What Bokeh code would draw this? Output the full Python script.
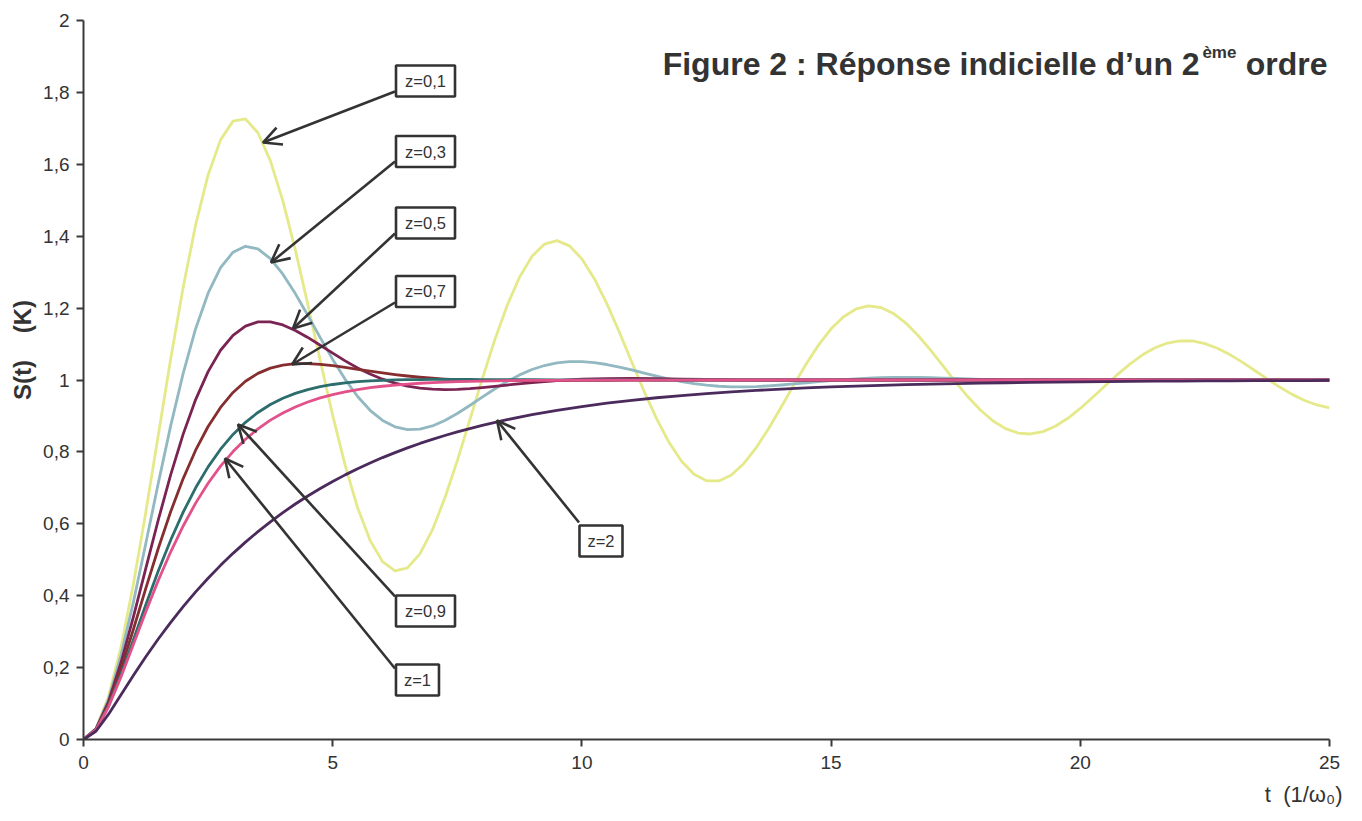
from bokeh.plotting import figure
from bokeh.models import Range1d, FixedTicker, Label, Arrow, OpenHead, ColumnDataSource, Title
from bokeh.core.properties import value
from bokeh.embed import file_html
from bokeh.resources import INLINE

# ---------------- data ----------------
t_fine = [0, 0.25, 0.5, 0.75, 1, 1.25, 1.5, 1.75, 2, 2.25, 2.5, 2.75, 3, 3.25, 3.5, 3.75,
          4, 4.25, 4.5, 4.75, 5, 5.25, 5.5, 5.75, 6, 6.25, 6.5, 6.75, 7, 7.25, 7.5, 7.75,
          8, 8.25, 8.5, 8.75, 9, 9.25, 9.5, 9.75, 10, 10.25, 10.5, 10.75, 11, 11.25, 11.5, 11.75,
          12, 12.25, 12.5, 12.75, 13, 13.25, 13.5, 13.75, 14, 14.25, 14.5, 14.75, 15, 15.25, 15.5, 15.75,
          16, 16.25, 16.5, 16.75, 17, 17.25, 17.5, 17.75, 18, 18.25, 18.5, 18.75, 19, 19.25, 19.5, 19.75,
          20, 20.25, 20.5, 20.75, 21, 21.25, 21.5, 21.75, 22, 22.25, 22.5, 22.75, 23, 23.25, 23.5, 23.75,
          24, 24.25, 24.5, 24.75, 25]

t_mixed = [0, 0.25, 0.5, 0.75, 1, 1.25, 1.5, 1.75, 2, 2.25, 2.5, 2.75, 3, 3.25, 3.5, 3.75,
           4, 4.25, 4.5, 4.75, 5, 5.25, 5.5, 5.75, 6, 6.25, 6.5, 6.75, 7, 7.25, 7.5, 7.75, 8,
           8.5, 9, 9.5, 10, 10.5, 11, 11.5, 12, 12.5, 13, 13.5, 14, 14.5, 15, 15.5, 16, 16.5,
           17, 17.5, 18, 18.5, 19, 19.5, 20, 20.5, 21, 21.5, 22, 22.5, 23, 23.5, 24, 24.5, 25]

s_z01 = [0, 0.0306, 0.1185, 0.2555, 0.4310, 0.6325, 0.8464, 1.0592, 1.2581, 1.4316,
         1.5704, 1.6679, 1.7201, 1.7261, 1.6878, 1.6097, 1.4983, 1.3622, 1.2108, 1.0539,
         0.9014, 0.7624, 0.6445, 0.5540, 0.4949, 0.4693, 0.4772, 0.5164, 0.5830, 0.6716,
         0.7758, 0.8886, 1.0026, 1.1109, 1.2072, 1.2862, 1.3440, 1.3781, 1.3877, 1.3732,
         1.3369, 1.2818, 1.2124, 1.1335, 1.0503, 0.9681, 0.8919, 0.8259, 0.7738, 0.7378,
         0.7196, 0.7192, 0.7359, 0.7678, 0.8122, 0.8658, 0.9250, 0.9858, 1.0445, 1.0977,
         1.1423, 1.1761, 1.1976, 1.2061, 1.2017, 1.1852, 1.1583, 1.1231, 1.0822, 1.0383,
         0.9942, 0.9526, 0.9159, 0.8861, 0.8647, 0.8525, 0.8498, 0.8564, 0.8714, 0.8935,
         0.9209, 0.9518, 0.9841, 1.0158, 1.0450, 1.0700, 1.0896, 1.1028, 1.1091, 1.1085,
         1.1013, 1.0884, 1.0707, 1.0496, 1.0265, 1.0029, 0.9803, 0.9600, 0.9431, 0.9305,
         0.9227]

s_z03 = [0, 0.0296, 0.1111, 0.2326, 0.3814, 0.5453, 0.7125, 0.8731, 1.0186, 1.1428,
         1.2415, 1.3124, 1.3555, 1.3720, 1.3647, 1.3374, 1.2944, 1.2404, 1.1801, 1.1177,
         1.0573, 1.0019, 0.9542, 0.9157, 0.8875, 0.8697, 0.8619, 0.8632, 0.8721, 0.8873,
         0.9068, 0.9290, 0.9522, 0.9749, 0.9959, 1.0142, 1.0292, 1.0403, 1.0476, 1.0512,
         1.0513, 1.0484, 1.0431, 1.0361, 1.0279, 1.0193, 1.0108, 1.0028, 0.9958, 0.9900,
         0.9856, 0.9826, 0.9811, 0.9808, 0.9817, 0.9836, 0.9861, 0.9891, 0.9923, 0.9954,
         0.9985, 1.0011, 1.0034, 1.0051, 1.0063, 1.0070, 1.0072, 1.0069, 1.0063, 1.0054,
         1.0043, 1.0031, 1.0019, 1.0008, 0.9997, 0.9989, 0.9982, 0.9977, 0.9974, 0.9973,
         0.9974, 0.9976, 0.9979, 0.9983, 0.9988, 0.9992, 0.9996, 1.0000, 1.0004, 1.0006,
         1.0008, 1.0009, 1.0010, 1.0010, 1.0009, 1.0008, 1.0006, 1.0005, 1.0003, 1.0002,
         1.0000]

s_z05 = [0, 0.0287, 0.1044, 0.2127, 0.3403, 0.4760, 0.6105, 0.7367, 0.8494, 0.9455,
         1.0234, 1.0827, 1.1244, 1.1500, 1.1617, 1.1619, 1.1531, 1.1379, 1.1184, 1.0968,
         1.0746, 1.0532, 1.0336, 1.0165, 1.0023, 0.9911, 0.9828, 0.9774, 0.9744, 0.9734,
         0.9742, 0.9761, 0.9790,
         0.9860, 0.9929, 0.9985, 1.0022, 1.0040, 1.0043, 1.0037, 1.0026, 1.0014, 1.0004,
         0.9998, 0.9994, 0.9993, 0.9994, 0.9995, 0.9997, 0.9999,
         1.0, 1.0, 1.0, 1.0, 1.0, 1.0, 1.0, 1.0, 1.0, 1.0, 1.0, 1.0, 1.0, 1.0, 1.0, 1.0, 1.0]

s_z07 = [0, 0.0278, 0.0983, 0.1954, 0.3059, 0.4203, 0.5313, 0.6341, 0.7257, 0.8047,
         0.8706, 0.9238, 0.9653, 0.9964, 1.0185, 1.0330, 1.0416, 1.0454, 1.0458, 1.0436,
         1.0398, 1.0350, 1.0298, 1.0246, 1.0196, 1.0151, 1.0111, 1.0077, 1.0049, 1.0027,
         1.0010, 0.9997, 0.9988,
         0.9980, 0.9979, 0.9983, 0.9987, 0.9992, 0.9996, 0.9998,
         1.0, 1.0, 1.0, 1.0, 1.0, 1.0, 1.0, 1.0, 1.0, 1.0, 1.0, 1.0, 1.0, 1.0,
         1.0, 1.0, 1.0, 1.0, 1.0, 1.0, 1.0, 1.0, 1.0, 1.0, 1.0, 1.0, 1.0]

s_z09 = [0, 0.0269, 0.0928, 0.1802, 0.2770, 0.3749, 0.4687, 0.5550, 0.6324, 0.7001,
         0.7583, 0.8075, 0.8485, 0.8823, 0.9097, 0.9317, 0.9491, 0.9628, 0.9734, 0.9815,
         0.9875, 0.9920, 0.9953, 0.9976, 0.9992, 1.0003, 1.0009, 1.0013, 1.0015, 1.0015,
         1.0015, 1.0014, 1.0012,
         1.0009, 1.0007, 1.0004, 1.0003, 1.0002, 1.0001,
         1.0, 1.0, 1.0, 1.0, 1.0, 1.0, 1.0, 1.0, 1.0, 1.0, 1.0, 1.0, 1.0, 1.0,
         1.0, 1.0, 1.0, 1.0, 1.0, 1.0, 1.0, 1.0, 1.0, 1.0, 1.0, 1.0, 1.0, 1.0]

s_z1 = [0, 0.0265, 0.0902, 0.1734, 0.2642, 0.3554, 0.4422, 0.5221, 0.5940, 0.6575,
        0.7127, 0.7603, 0.8009, 0.8352, 0.8641, 0.8883, 0.9084, 0.9251, 0.9389, 0.9503,
        0.9596, 0.9672, 0.9734, 0.9785, 0.9826, 0.9860, 0.9887, 0.9909, 0.9927, 0.9941,
        0.9953, 0.9962, 0.9970,
        0.9981, 0.9988, 0.9992, 0.9995, 0.9997, 0.9998, 0.9999, 0.9999,
        1.0, 1.0, 1.0, 1.0, 1.0, 1.0, 1.0, 1.0, 1.0, 1.0, 1.0, 1.0, 1.0,
        1.0, 1.0, 1.0, 1.0, 1.0, 1.0, 1.0, 1.0, 1.0, 1.0, 1.0, 1.0, 1.0]

s_z2 = [0, 0.0229, 0.0697, 0.1235, 0.1777, 0.2300, 0.2795, 0.3260, 0.3696, 0.4105,
        0.4486, 0.4844, 0.5178, 0.5490, 0.5782, 0.6056, 0.6311, 0.6550, 0.6774, 0.6983,
        0.7178, 0.7361, 0.7532, 0.7692, 0.7842, 0.7981, 0.8112, 0.8235, 0.8349, 0.8456,
        0.8556, 0.8650, 0.8737,
        0.8895, 0.9034, 0.9155, 0.9261, 0.9354, 0.9435, 0.9506, 0.9568, 0.9622, 0.9669,
        0.9711, 0.9747, 0.9779, 0.9806, 0.9831, 0.9852, 0.9871, 0.9887, 0.9901, 0.9913,
        0.9924, 0.9934, 0.9942, 0.9949, 0.9956, 0.9961, 0.9966, 0.9970, 0.9974, 0.9977,
        0.9980, 0.9983, 0.9985, 0.9987]

y_ticks = [0, 0.2, 0.4, 0.6, 0.8, 1, 1.2, 1.4, 1.6, 1.8, 2]
y_tick_labels = ["0", "0,2", "0,4", "0,6", "0,8", "1", "1,2", "1,4", "1,6", "1,8", "2"]
x_ticks = [0, 5, 10, 15, 20, 25]
x_tick_labels = ["0", "5", "10", "15", "20", "25"]

curve_labels = ["z=0,1", "z=0,3", "z=0,5", "z=0,7", "z=0,9", "z=1", "z=2"]

series = [(t_fine, s_z01), (t_fine, s_z03), (t_mixed, s_z05), (t_mixed, s_z07),
          (t_mixed, s_z09), (t_mixed, s_z1), (t_mixed, s_z2)]
for tt, ss in series:
    assert len(tt) == len(ss), (len(tt), len(ss))

# ---------------- annotation placement (layout, not data) ----------------
box_x = [6.862, 6.862, 6.862, 6.862, 6.862, 6.701, 10.383]
box_y = [1.8317, 1.6356, 1.4367, 1.2462, 0.3574, 0.1655, 0.5522]
box_w = [59, 59, 59, 59, 59, 43, 43]
arrow_x0 = [6.25, 6.25, 6.25, 6.25, 6.25, 6.25, 9.942]
arrow_y0 = [1.8025, 1.6078, 1.4075, 1.2156, 0.3978, 0.1975, 0.6036]
arrow_x1 = [3.601, 3.762, 4.204, 4.184, 3.100, 2.839, 8.297]
arrow_y1 = [1.6606, 1.3268, 1.1433, 1.0431, 0.8762, 0.7816, 0.8873]

FONT = "Liberation Sans"
DARK = "#333333"
AXIS = "#3a3a3a"
colors = ["#e5e98a", "#92b8c1", "#7b2453", "#862e2f", "#2d6d6e", "#e3518a", "#4b2a5c"]

p = figure(frame_width=1246, frame_height=719,
           min_border_left=83, min_border_right=25, min_border_top=20, min_border_bottom=74,
           x_range=Range1d(0, 25), y_range=Range1d(0, 2),
           output_backend="svg", toolbar_location=None)
p.outline_line_color = None
p.xgrid.visible = False
p.ygrid.visible = False
p.background_fill_color = "white"
p.border_fill_color = "white"

for ax in (p.xaxis[0], p.yaxis[0]):
    ax.axis_line_color = AXIS
    ax.axis_line_width = 2
    ax.major_tick_line_color = AXIS
    ax.major_tick_line_width = 2
    ax.major_tick_in = 0
    ax.major_tick_out = 7
    ax.minor_tick_line_color = None
    ax.major_label_text_font = FONT
    ax.major_label_text_font_size = "19px"
    ax.major_label_text_color = DARK

p.xaxis.ticker = FixedTicker(ticks=x_ticks)
p.xaxis.major_label_overrides = dict(zip(x_ticks, x_tick_labels))
p.xaxis.major_label_standoff = 9
p.yaxis.ticker = FixedTicker(ticks=y_ticks)
p.yaxis.major_label_overrides = dict(zip(y_ticks, y_tick_labels))
p.yaxis.major_label_standoff = 7

for (tt, ss), c in zip(series, colors):
    p.line(tt, ss, line_color=c, line_width=2.8, line_join="round")

# arrows
asrc = ColumnDataSource(dict(x0=arrow_x0, y0=arrow_y0, x1=arrow_x1, y1=arrow_y1))
p.add_layout(Arrow(source=asrc, x_start="x0", y_start="y0", x_end="x1", y_end="y1",
                   line_color=DARK, line_width=2.6,
                   end=OpenHead(size=18, line_color=DARK, line_width=2.6)))

# boxed labels
bsrc = ColumnDataSource(dict(x=box_x, y=box_y, w=box_w, text=curve_labels))
p.rect(x="x", y="y", width="w", height=31, width_units="screen", height_units="screen",
       source=bsrc, fill_color="white", line_color=DARK, line_width=2.6)
p.text(x="x", y="y", text="text", source=bsrc, text_align="center", text_baseline="middle",
       text_font=value(FONT), text_font_size="16.5px", text_color=DARK)

# title: "Figure 2 : Réponse indicielle d’un 2ème ordre"
p.add_layout(Label(x=11.62, y=1.878, text="Figure 2 : Réponse indicielle d’un 2",
                   text_align="left", text_baseline="alphabetic",
                   text_font=FONT, text_font_style="bold", text_font_size="32px", text_color=DARK))
p.add_layout(Label(x=22.45, y=1.911, text="ème",
                   text_align="left", text_baseline="alphabetic",
                   text_font=FONT, text_font_style="bold", text_font_size="17px", text_color=DARK))
p.add_layout(Label(x=24.96, y=1.878, text="ordre",
                   text_align="right", text_baseline="alphabetic",
                   text_font=FONT, text_font_style="bold", text_font_size="32px", text_color=DARK))

# axis titles
p.add_layout(Title(text="\u00a0" * 9 + "S(t)\u00a0\u00a0\u00a0\u00a0(K)", align="center",
                   text_font=FONT, text_font_style="bold", text_font_size="24px",
                   text_color=DARK), "left")
p.add_layout(Title(text="t\u00a0\u00a0(1/ω₀)", align="right", offset=-13, standoff=17,
                   text_font=FONT, text_font_style="normal", text_font_size="22px",
                   text_color=DARK), "below")

open("out.html", "w").write(file_html(p, INLINE))
